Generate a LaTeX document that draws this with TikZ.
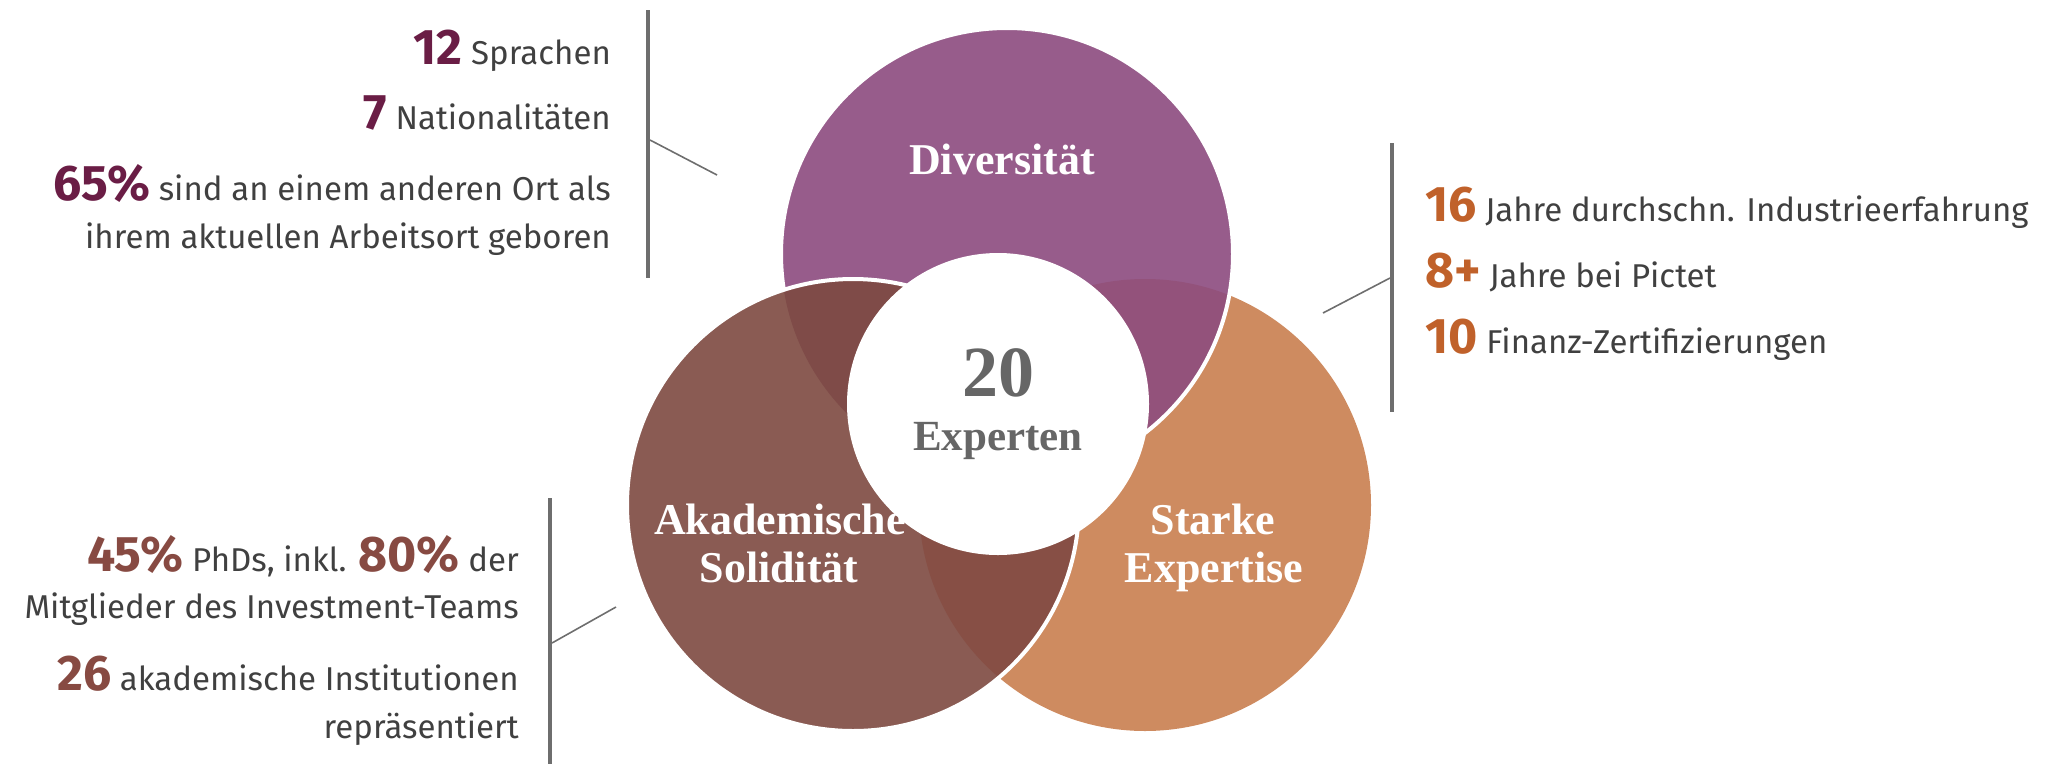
\documentclass[tikz,border=0pt]{standalone}
\usepackage{fontspec}
\setmainfont{Liberation Serif}
\setsansfont{Fira Sans}
\definecolor{divfill}{HTML}{975C8B}
\definecolor{akafill}{HTML}{8A5B53}
\definecolor{expfill}{HTML}{CE8B60}
\definecolor{akadiv}{HTML}{7F4B48}
\definecolor{divexp}{HTML}{93527B}
\definecolor{akaexp}{HTML}{874F45}
\definecolor{numdiv}{HTML}{6A1D45}
\definecolor{numexp}{HTML}{C0612A}
\definecolor{numaka}{HTML}{874A42}
\definecolor{textgray}{HTML}{404040}
\definecolor{linegray}{HTML}{6E6E6E}
\definecolor{hubgray}{HTML}{666666}
\newcommand{\vr}{226}
\newcommand{\bignum}[2]{{\color{#1}\fontsize{50}{50}\selectfont\bfseries #2}}
\tikzset{
        stat/.style={font=\sffamily\fontsize{33}{39}\selectfont, text=textgray, inner sep=0pt},
        statleft/.style={stat, anchor=base east},
        statright/.style={stat, anchor=base west},
        vlabel/.style={font=\bfseries\fontsize{44}{48}\selectfont, text=white, inner sep=0pt, anchor=base},
        hub/.style={circle, fill=white, minimum size=302pt, inner sep=0pt},
        hubnum/.style={font=\bfseries\fontsize{72}{72}\selectfont, text=hubgray, inner sep=0pt, anchor=base},
        hubtext/.style={font=\bfseries\fontsize{43}{48}\selectfont, text=hubgray, inner sep=0pt, anchor=base},
        bar/.style={draw=linegray, line width=4pt},
        leader/.style={draw=linegray, line width=1.6pt},
        rim/.style={draw=white, line width=4pt}
          }
\begin{document}
\begin{tikzpicture}[x=1pt, y=-1pt]
  \useasboundingbox (0,0) rectangle (2056,764);
  % circle centres
  \coordinate (div) at (1007,254);
  \coordinate (aka) at (853,505);
  \coordinate (exp) at (1145,505);

  % venn circles, overlaps and white rims
  \fill[expfill] (exp) circle (\vr);
  \fill[divfill] (div) circle (\vr);
  \begin{scope}
    \clip (exp) circle (\vr);
    \fill[divexp] (div) circle (\vr);
  \end{scope}
  \draw[rim] (div) circle (\vr);
  \fill[akafill] (aka) circle (\vr);
  \begin{scope}
    \clip (div) circle (\vr);
    \fill[akadiv] (aka) circle (\vr);
  \end{scope}
  \begin{scope}
    \clip (exp) circle (\vr);
    \fill[akaexp] (aka) circle (\vr);
  \end{scope}
  \draw[rim] (aka) circle (\vr);

  \node[vlabel] (divname) at (1002,174) {Diversität};
  \node[vlabel] (akaname1) at (780,534) {Akademische};
  \node[vlabel] (akaname2) at (779,582) {Solidität};
  \node[vlabel] (expname1) at (1213,534) {Starke};
  \node[vlabel] (expname2) at (1214,582) {Expertise};

  \node[hub] (hub) at (998,404) {};
  \node[hubnum] (twenty) at (998,396) {20};
  \node[hubtext] (experts) at (998,450) {Experten};

  % Diversitaet block
  \node[statleft] (d1) at (611,64) {\bignum{numdiv}{12} Sprachen};
  \node[statleft] (d2) at (611,129) {\bignum{numdiv}{7} Nationalitäten};
  \node[statleft] (d3) at (611,200) {\bignum{numdiv}{65\%} sind an einem anderen Ort als};
  \node[statleft] (d4) at (611,248) {ihrem aktuellen Arbeitsort geboren};
  \coordinate (dtop) at (648,10);
  \coordinate (dbot) at (648,278);
  \coordinate (dfrom) at (650,140);
  \coordinate (dto) at (717,175);
  \draw[bar] (dtop) -- (dbot);
  \draw[leader] (dfrom) -- (dto);

  % Expertise block
  \node[statright] (e1) at (1425,221) {\bignum{numexp}{16} Jahre durchschn. Industrieerfahrung};
  \node[statright] (e2) at (1425,287) {\bignum{numexp}{8+} Jahre bei Pictet};
  \node[statright] (e3) at (1425,353) {\bignum{numexp}{10} Finanz-Zertifizierungen};
  \coordinate (etop) at (1392,143);
  \coordinate (ebot) at (1392,412);
  \coordinate (efrom) at (1390,278);
  \coordinate (eto) at (1323,313);
  \draw[bar] (etop) -- (ebot);
  \draw[leader] (efrom) -- (eto);

  % Akademische block
  \node[statleft] (a1) at (519,571) {\bignum{numaka}{45\%} PhDs, inkl. \bignum{numaka}{80\%} der};
  \node[statleft] (a2) at (519,618) {Mitglieder des Investment-Teams};
  \node[statleft] (a3) at (519,690) {\bignum{numaka}{26} akademische Institutionen};
  \node[statleft] (a4) at (519,738) {repräsentiert};
  \coordinate (atop) at (550,498);
  \coordinate (abot) at (550,764);
  \coordinate (afrom) at (552,643);
  \coordinate (ato) at (616,607);
  \draw[bar] (atop) -- (abot);
  \draw[leader] (afrom) -- (ato);
\end{tikzpicture}
\end{document}
